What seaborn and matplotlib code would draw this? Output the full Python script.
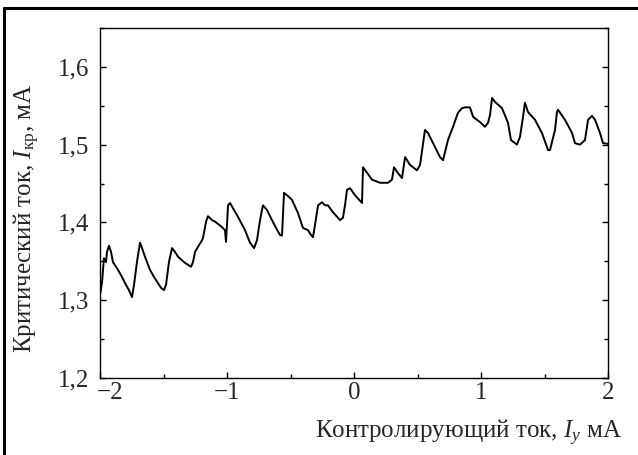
import matplotlib
matplotlib.use("Agg")
import matplotlib.pyplot as plt
import matplotlib.transforms as mtrans
from matplotlib.lines import Line2D
from matplotlib.ticker import MultipleLocator, FixedLocator
import seaborn as sns
import pandas as pd

# control current I_y, mA
control_current = [
    -2.000, -1.984, -1.969, -1.953, -1.945, -1.929, -1.913, -1.898, -1.858, -1.827,
    -1.803, -1.772, -1.748, -1.732, -1.709, -1.685, -1.669, -1.646, -1.606, -1.575,
    -1.543, -1.520, -1.496, -1.480, -1.457, -1.433, -1.409, -1.386, -1.331, -1.283,
    -1.268, -1.252, -1.220, -1.197, -1.189, -1.165, -1.150, -1.118, -1.094, -1.039,
    -1.016, -1.008, -1.000, -0.992, -0.976, -0.945, -0.913, -0.858, -0.819, -0.787,
    -0.764, -0.740, -0.717, -0.685, -0.646, -0.614, -0.583, -0.567, -0.559, -0.551,
    -0.520, -0.488, -0.441, -0.402, -0.362, -0.339, -0.323, -0.307, -0.283, -0.252,
    -0.228, -0.205, -0.165, -0.110, -0.087, -0.071, -0.055, -0.031, 0.008, 0.063,
    0.071, 0.102, 0.142, 0.205, 0.268, 0.299, 0.315, 0.339, 0.378, 0.402,
    0.441, 0.496, 0.520, 0.543, 0.559, 0.583, 0.638, 0.677, 0.701, 0.740,
    0.780, 0.803, 0.819, 0.850, 0.874, 0.913, 0.937, 0.992, 1.031, 1.055,
    1.071, 1.087, 1.110, 1.165, 1.213, 1.236, 1.268, 1.283, 1.307, 1.331,
    1.346, 1.370, 1.425, 1.480, 1.528, 1.543, 1.583, 1.598, 1.606, 1.661,
    1.717, 1.740, 1.780, 1.819, 1.843, 1.874, 1.898, 1.937, 1.961, 2.000,
]
# critical current I_kr, mA
critical_current = [
    1.307, 1.323, 1.354, 1.349, 1.362, 1.370, 1.362, 1.349, 1.339, 1.330,
    1.322, 1.313, 1.304, 1.320, 1.349, 1.374, 1.367, 1.356, 1.339, 1.330,
    1.322, 1.316, 1.313, 1.320, 1.349, 1.367, 1.362, 1.356, 1.348, 1.343,
    1.349, 1.362, 1.371, 1.377, 1.380, 1.401, 1.408, 1.403, 1.401, 1.394,
    1.390, 1.375, 1.397, 1.422, 1.425, 1.416, 1.407, 1.390, 1.374, 1.367,
    1.377, 1.403, 1.422, 1.416, 1.403, 1.393, 1.384, 1.383, 1.410, 1.438,
    1.434, 1.429, 1.412, 1.393, 1.390, 1.384, 1.381, 1.397, 1.422, 1.426,
    1.422, 1.422, 1.413, 1.403, 1.406, 1.422, 1.442, 1.444, 1.435, 1.425,
    1.471, 1.464, 1.455, 1.451, 1.451, 1.455, 1.471, 1.465, 1.457, 1.484,
    1.474, 1.467, 1.474, 1.500, 1.519, 1.515, 1.497, 1.484, 1.480, 1.506,
    1.523, 1.534, 1.541, 1.547, 1.548, 1.548, 1.536, 1.529, 1.523, 1.528,
    1.538, 1.560, 1.555, 1.547, 1.528, 1.506, 1.502, 1.500, 1.510, 1.536,
    1.554, 1.542, 1.532, 1.515, 1.493, 1.493, 1.519, 1.542, 1.545, 1.532,
    1.515, 1.502, 1.500, 1.506, 1.532, 1.537, 1.532, 1.515, 1.502, 1.501,
]

x_ticks = [-2, -1, 0, 1, 2]
x_tick_labels = ["\u22122", "\u22121", "0", "1", "2"]
y_ticks = [1.2, 1.3, 1.4, 1.5, 1.6]
y_tick_labels = ["1,2", "1,3", "1,4", "1,5", "1,6"]

x_label = r"Контролирующий ток, $I_y$ мА"
y_label = r"Критический ток, $I_{\mathrm{кр}}$, мА"

sns.set_style("ticks")
plt.rcParams["font.family"] = ["Liberation Serif", "DejaVu Serif"]
plt.rcParams["mathtext.fontset"] = "custom"
plt.rcParams["mathtext.rm"] = "Liberation Serif"
plt.rcParams["mathtext.it"] = "Liberation Serif:italic"

FS = 18

fig = plt.figure(figsize=(6.38, 4.55), dpi=100)
ax = fig.add_axes([100 / 638, 1 - 378 / 455, 508 / 638, 350 / 455])

df = pd.DataFrame({"x": control_current, "y": critical_current})
sns.lineplot(data=df, x="x", y="y", ax=ax, color="black", linewidth=1.4,
             estimator=None, sort=False)

ax.set_xlim(-2, 2)
ax.set_ylim(1.2, 1.65)
ax.xaxis.set_major_locator(FixedLocator(x_ticks))
ax.set_xticklabels(x_tick_labels, fontsize=FS)
ax.yaxis.set_major_locator(FixedLocator(y_ticks))
ax.set_yticklabels(y_tick_labels, fontsize=FS)
ax.xaxis.set_minor_locator(MultipleLocator(0.5))
ax.yaxis.set_minor_locator(MultipleLocator(0.05))

ax.tick_params(axis="both", which="both", direction="in", right=True, top=False,
               color="black")
ax.tick_params(axis="both", which="major", length=4, width=1)
ax.tick_params(axis="both", which="minor", length=3, width=1)
ax.tick_params(axis="x", which="major", pad=3)
ax.tick_params(axis="y", which="major", pad=8)

for s in ax.spines.values():
    s.set_color("black")
    s.set_linewidth(1.0)

# shift the "-2" label right so it does not collide with "1,2"
first = ax.get_xticklabels()[0]
first.set_transform(first.get_transform() +
                    mtrans.ScaledTranslation(10 / 100, 0, fig.dpi_scale_trans))

ax.set_xlabel(x_label, fontsize=FS, ha="right", va="center")
ax.xaxis.set_label_coords((622 - 100) / 508, (378 - 433) / 350)
ax.set_ylabel(y_label, fontsize=FS, va="center", ha="center")
ax.yaxis.set_label_coords((27 - 100) / 508, 0.455)

# outer frame (left and top edges)
fig.add_artist(Line2D([4 / 638, 4 / 638], [0, 1 - 8 / 455], color="black",
                      linewidth=2.2, transform=fig.transFigure))
fig.add_artist(Line2D([4 / 638, 1], [1 - 8 / 455, 1 - 8 / 455], color="black",
                      linewidth=2.2, transform=fig.transFigure))

fig.savefig("out.png", dpi=100)
